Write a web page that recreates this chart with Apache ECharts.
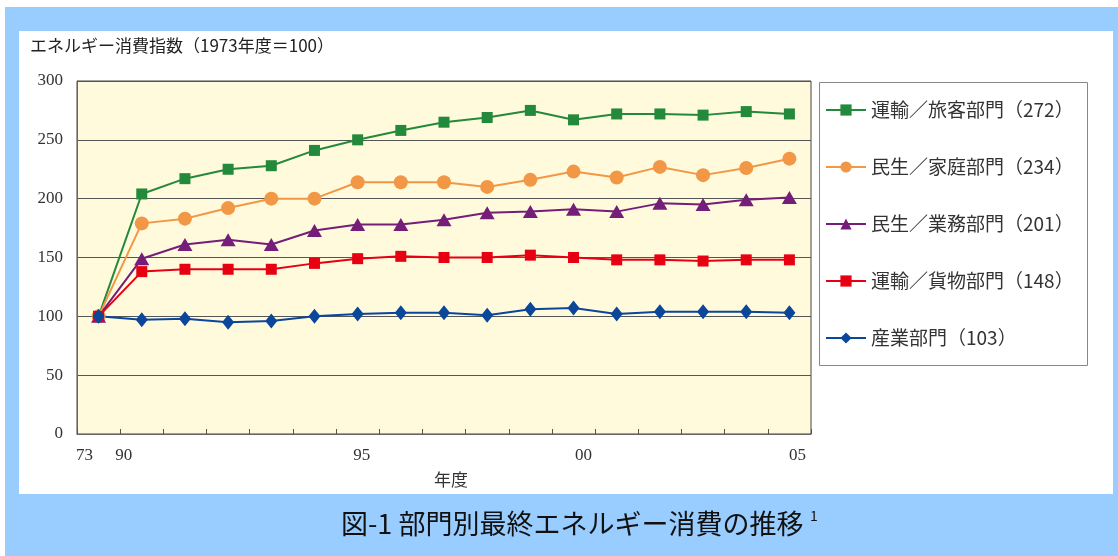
<!DOCTYPE html>
<html>
<head>
<meta charset="utf-8">
<script src="https://cdn.jsdelivr.net/npm/echarts@6/dist/echarts.min.js"></script>
<style>
  html, body { margin: 0; padding: 0; background: #fff; }
  #main { width: 1118px; height: 556px; }
</style>
</head>
<body>
<div id="main"></div>
<script>
// 年度（1973, 1990〜2005）
var years = ['73', '90', '91', '92', '93', '94', '95', '96', '97', '98', '99', '00', '01', '02', '03', '04', '05'];
// 表示する目盛ラベル
var shownLabels = ['73', '90', '95', '00', '05'];
var yTicks = { min: 0, max: 300, step: 50 };

// 各部門の指数（1973年度＝100）
var ryokaku = [100, 204, 217, 225, 228, 241, 250, 258, 265, 269, 275, 267, 272, 272, 271, 274, 272];
var katei   = [100, 179, 183, 192, 200, 200, 214, 214, 214, 210, 216, 223, 218, 227, 220, 226, 234];
var gyomu   = [100, 149, 161, 165, 161, 173, 178, 178, 182, 188, 189, 191, 189, 196, 195, 199, 201];
var kamotsu = [100, 138, 140, 140, 140, 145, 149, 151, 150, 150, 152, 150, 148, 148, 147, 148, 148];
var sangyo  = [100, 97, 98, 95, 96, 100, 102, 103, 103, 101, 106, 107, 102, 104, 104, 104, 103];

var seriesNames = ['運輸／旅客部門（272）', '民生／家庭部門（234）', '民生／業務部門（201）', '運輸／貨物部門（148）', '産業部門（103）'];

var jp = '"Noto Sans CJK JP", "Noto Sans", sans-serif';
var serif = '"Liberation Serif", "DejaVu Serif", serif';

var chart = echarts.init(document.getElementById('main'));

function line(name, data, color, symbol, size) {
  return {
    name: name,
    type: 'line',
    data: data,
    symbol: symbol,
    symbolSize: size,
    showAllSymbol: true,
    lineStyle: { color: color, width: 2 },
    itemStyle: { color: color },
    emphasis: { disabled: true }
  };
}

var option = {
  animation: false,
  backgroundColor: '#fff',
  graphic: [
    // 外枠（水色）
    { type: 'rect', z: -10, shape: { x: 5, y: 7, width: 1113, height: 549 }, style: { fill: '#99CCFF' } },
    { type: 'rect', z: -9, shape: { x: 19, y: 31, width: 1094, height: 463 }, style: { fill: '#fff' } },
    // 凡例の枠
    { type: 'rect', z: -8, shape: { x: 819.5, y: 82.5, width: 268, height: 283 }, style: { fill: '#fff', stroke: '#888', lineWidth: 1 } },
    {
      type: 'text', left: 30, top: 37,
      style: { text: 'エネルギー消費指数（1973年度＝100）', font: '17px ' + jp, fill: '#222' }
    },
    {
      type: 'text', left: 341, top: 509,
      style: {
        text: '{m|図-1 部門別最終エネルギー消費の推移}  {s|1}',
        rich: {
          m: { font: '27px ' + jp, fill: '#111' },
          s: { font: '14px ' + jp, fill: '#111', padding: [0, 0, 16, 0] }
        }
      }
    }
  ],
  legend: {
    orient: 'vertical',
    left: 825,
    top: 100,
    itemWidth: 40,
    itemHeight: 14,
    itemGap: 37,
    padding: 0,
    textStyle: { fontFamily: jp, fontSize: 19, color: '#333', lineHeight: 20 },
    data: seriesNames
  },
  grid: {
    left: 77, top: 81, width: 734, height: 353,
    show: true, backgroundColor: '#FFFADC', borderColor: '#444', borderWidth: 1
  },
  xAxis: {
    type: 'category',
    data: years,
    boundaryGap: true,
    name: '年度',
    nameLocation: 'middle',
    nameGap: 37,
    nameTextStyle: { fontFamily: jp, fontSize: 17, color: '#333', padding: [0, 0, 0, 14] },
    axisLine: { lineStyle: { color: '#666', width: 1 } },
    axisTick: { show: true, inside: true, length: 5, interval: 0, lineStyle: { color: '#555' } },
    axisLabel: {
      interval: 0,
      margin: 13,
      fontFamily: serif,
      fontSize: 17,
      color: '#333',
      formatter: function (v) {
        var i = shownLabels.indexOf(v);
        return i < 0 ? '' : '{l' + i + '|' + v + '}';
      },
      rich: {
        l0: { padding: [0, 28, 0, 0] },
        l1: { padding: [0, 36, 0, 0] },
        l2: { padding: [0, 0, 0, 8] },
        l3: { padding: [0, 0, 0, 20] },
        l4: { padding: [0, 0, 0, 16] }
      }
    },
    splitLine: { show: false }
  },
  yAxis: {
    type: 'value',
    min: yTicks.min,
    max: yTicks.max,
    interval: yTicks.step,
    axisLine: { show: true, lineStyle: { color: '#666' } },
    axisTick: { show: false },
    axisLabel: { margin: 14, fontFamily: serif, fontSize: 17, color: '#333' },
    splitLine: { lineStyle: { color: '#555', width: 1 } }
  },
  series: [
    line(seriesNames[0], ryokaku, '#23893B', 'rect', 11),
    line(seriesNames[1], katei, '#F29746', 'circle', 14),
    line(seriesNames[2], gyomu, '#741E7A', 'triangle', [15, 13]),
    line(seriesNames[3], kamotsu, '#E60012', 'rect', 11),
    line(seriesNames[4], sangyo, '#0A469A', 'diamond', [12, 15])
  ]
};

chart.setOption(option);
</script>
</body>
</html>
